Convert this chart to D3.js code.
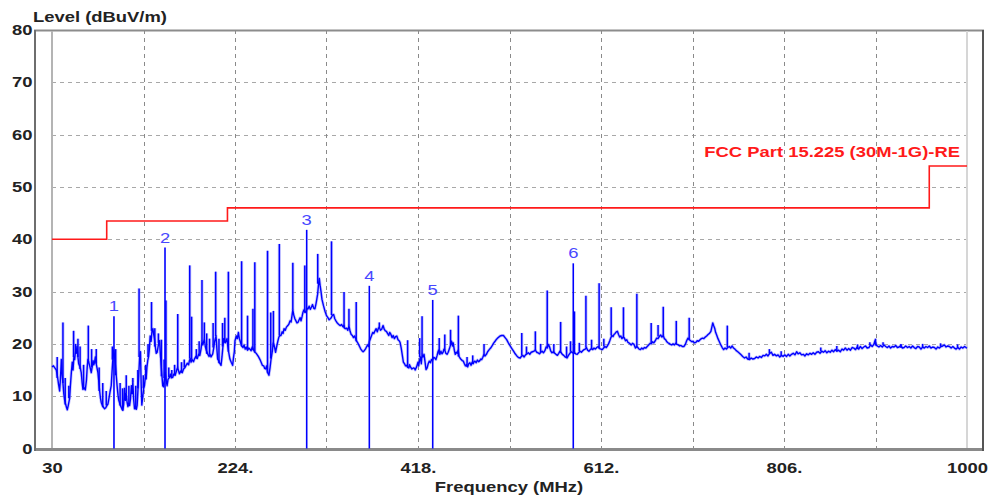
<!DOCTYPE html>
<html>
<head>
<meta charset="utf-8">
<script src="https://cdn.jsdelivr.net/npm/d3@7"></script>
<style>
  html, body { margin: 0; padding: 0; background: #ffffff; }
  svg { display: block; }
  text { font-family: "Liberation Sans", Arial, sans-serif; }
</style>
</head>
<body>
<svg id="chart" width="991" height="499"></svg>
<script>
// ---------------- DATA ----------------
const yTickValues = [0, 10, 20, 30, 40, 50, 60, 70, 80];
const xTickValues = [30, 224, 418, 612, 806, 1000];
const xTickLabels = ["30", "224.", "418.", "612.", "806.", "1000"];
const xGridValues = [127, 224, 321, 418, 515, 612, 709, 806, 903];
const yGridValues = [10, 20, 30, 40, 50, 60, 70];

const limitFreq  = [30, 88, 216, 960, 1000];
const limitLevel = [40, 43.5, 46, 54, 54];
const limitName = "FCC Part 15.225 (30M-1G)-RE";

const markerFreq  = [95.7, 149.8, 300.0, 366.4, 433.6, 582.6];
const markerLevel = [25.3, 38.4, 41.8, 31.1, 28.4, 35.4];
const markerLabel = ["1", "2", "3", "4", "5", "6"];

const trace30to220 = [[30,15.6],[31.5,15.8],[33,15.4],[34.6,15.0],[36,13.5],[37,12.2],[38.1,11.0],[39,13.5],[39.9,17.0],[40.8,14],[41.6,12.5],[42.5,10.5],[43.4,9.3],[44.5,8.4],[45.5,7.8],[46.2,7.4],[47.2,8.2],[48.7,9.6],[49.5,12],[50.5,14.5],[51.5,16.5],[52.3,15],[53.2,17.5],[54,17.0],[55,18.8],[55.7,18.2],[56.5,19.5],[57.5,17.5],[58.3,16.2],[59.3,15.8],[60.2,15.2],[61,14.5],[62,12.5],[62.8,11.3],[64,11.6],[65.3,11.2],[66.5,13],[67.3,15.5],[68.1,17.0],[69,16.5],[69.9,15.8],[70.8,15.2],[71.6,14.5],[72.5,15.5],[73.5,16.8],[74.3,16],[75.1,16.5],[76,17.5],[76.9,16.2],[77.8,15.3],[78.7,14.5],[79.6,12.8],[80.5,11],[81.4,9.6],[82.2,8.8],[83.2,8.3],[84.5,7.9],[85.7,7.6],[87,7.8],[88.2,8.2],[89.3,8.5],[90.3,9.5],[91.5,10.8],[92.8,12],[93.6,14.5],[94.5,17],[95.4,18.8],[96.3,17.8],[97.2,16],[98.1,14],[99,12],[100,10.2],[100.8,9.2],[101.6,8.8],[102.6,8.2],[103.6,7.8],[104.4,7.5],[105.1,7.3],[106,8.5],[106.9,11.5],[107.8,9.2],[108.7,10.5],[109.6,8.8],[110.5,8.0],[111.3,8.6],[112.2,8.2],[113.2,9.5],[114.2,12.0],[115.0,10.5],[115.7,12.8],[116.5,9.5],[117.5,7.6],[118.5,8.0],[119.4,7.5],[120.3,8.3],[121.2,11.5],[122.1,14.5],[122.9,17.5],[123.8,18.5],[124.5,12.5],[125.2,8.3],[126.3,10],[127.2,11.5],[128,12],[128.9,13.5],[129.8,13.3],[130.6,15.5],[131.5,16.8],[132.3,17.5],[133.2,19.0],[134.1,21.5],[135.1,20.5],[136,22.5],[136.9,22.9],[137.8,21.8],[138.6,21.0],[139.5,19.5],[140.5,18.2],[141.5,18.4],[142.3,19.3],[143.2,20.2],[144,20.6],[144.9,18.0],[145.7,15.9],[146.6,13.8],[147.4,12.0],[148.3,11.8],[149.2,13.5],[150,14.5],[151,13],[152,12],[153,13.2],[154.5,13.6],[155.5,14.2],[156.5,13.5],[158,13.6],[159,14.2],[160.5,14.0],[161.6,14.6],[162.5,15.2],[163.3,15.5],[164.2,14.8],[165.1,14.3],[166.5,14.8],[168,14.5],[169.5,15.2],[171,15.5],[172.1,15.9],[173.5,16.3],[174.8,16.0],[175.7,16.8],[176.5,17.2],[177.4,16.5],[178.5,17.0],[180,16.6],[181,17.1],[182.5,17.6],[184,17.2],[184.5,17.5],[185.5,18.0],[186.7,17.8],[188,19.0],[189,20.5],[190,19.8],[191.5,21.0],[192.5,19.5],[193.5,18.8],[195,18.1],[196.5,17.6],[197.5,18.0],[198.6,17.5],[199.5,17.8],[200.4,18.1],[201.5,19.3],[202.5,20.5],[203.9,21.5],[204.8,19.0],[205.6,17.1],[206.7,16.8],[207.8,16.3],[209.2,15.9],[210.2,17.5],[211.2,19.5],[212.0,21.0],[212.7,21.0],[213.6,20.2],[214.6,20.5],[215.5,21.0],[216.4,19.5],[217.2,18.5],[218.6,17.1]];

const trace220to420 = [[220,16.5],[221.5,15.9],[222.5,17.5],[223.3,18.5],[224,20.6],[225.5,21.5],[226.5,21.0],[227.6,22.2],[228.6,21.0],[229.5,20.5],[231,19.6],[232.5,19.3],[233.6,19.8],[234.8,19.0],[236,19.4],[237.3,18.8],[238.5,19.2],[239.8,19.0],[241,18.7],[242.3,19.4],[243.8,18.8],[245,18.4],[246.5,18.2],[248,17.8],[249,17.5],[250.5,17.0],[251.7,16.5],[253,15.9],[254.4,15.8],[255.5,15.3],[256.5,15.2],[257.5,15.8],[258.6,14.5],[260,14.0],[261.2,15.5],[262.3,17.2],[263.5,18.5],[264.6,20.2],[265.8,19.5],[267,18.4],[268.2,19.5],[269.4,20.5],[270.5,21.3],[271.6,21.6],[272.7,21.6],[274,22.3],[275,22.0],[276,22.9],[277.3,22.6],[278.5,23.2],[280,23.5],[281.2,23.8],[282.3,24.4],[283.5,24.2],[284.5,25.5],[285.3,26.5],[286.3,25.5],[287.5,24.8],[288.6,24.4],[289.7,24.0],[290.7,24.1],[292,24.6],[293,25.0],[294,24.4],[295.2,25.3],[296,26.0],[297,26.5],[298.3,26.0],[299.5,26.3],[300.5,26.8],[301.5,26.7],[302.6,27.2],[303.8,26.6],[305,27.0],[306.2,27.5],[307.5,26.8],[308.7,26.7],[309.8,27.6],[310.7,28.5],[311.6,29.5],[312.6,31.5],[313.4,32.5],[314.2,31.2],[315.2,30.0],[316.2,28.5],[317.8,27.3],[319.5,26.2],[321,25.4],[322.5,25.0],[323.8,24.6],[325,24.8],[326,25.0],[327.3,25.5],[328.6,25.6],[329.8,24.8],[331,24.4],[332,24.1],[333.5,23.8],[334.7,23.6],[335.8,23.5],[337,23.7],[338.3,23.3],[339.4,23.5],[340.3,23.0],[341,22.9],[342.3,23.0],[343.6,22.6],[344.8,23.5],[346,22.4],[347.2,21.8],[348.4,21.6],[349.6,21.2],[350.8,21.5],[352,21.0],[353,20.5],[353.8,20.3],[355.2,19.8],[356.3,19.4],[357.4,19.0],[358.6,18.7],[359.8,18.5],[361,18.7],[362.2,19.0],[363.4,19.4],[364.6,19.8],[365.6,19.5],[366.5,20.5],[367.5,21.0],[368.6,21.5],[370,22.2],[371.2,22.0],[372.4,22.5],[373.6,22.9],[374.8,22.3],[376,23.0],[377,23.2],[378.2,22.6],[379.5,22.8],[381,23.5],[382.2,22.8],[383.4,22.5],[384.5,22.4],[385.7,22.0],[387,21.6],[388,22.2],[389.3,21.8],[390.5,21.2],[391.7,21.6],[393,21.0],[394.2,21.4],[395.5,21.5],[396.8,20.8],[398,20.6],[399,20.3],[400.2,19.2],[401.4,17.8],[402.5,16.5],[403.7,16.2],[404.8,15.8],[406,15.9],[407.2,15.5],[408.3,15.4],[409,16.0],[410,15.6],[411.5,15.2],[413,15.4],[414.4,15.3],[415,15.0],[416.5,15.6],[418,16.5]];

const trace420to700 = [[418.7,15.8],[419.6,16.8],[420.5,17.5],[421.5,16.2],[422.3,18.0],[423.3,17.5],[424.4,18.0],[425.5,16.5],[426.5,15.1],[427.7,15.4],[428.8,16.2],[430,16.7],[431.2,16.4],[432.3,17.0],[433.3,16.8],[434.5,17.4],[435.8,17.3],[437,17.0],[438.3,17.8],[439.2,18.5],[440,18.8],[441.2,18.0],[442.3,18.6],[443.4,18.1],[444.6,18.4],[445.5,19.0],[446.4,18.8],[447.5,18.2],[448.8,18.0],[450,18.4],[451.2,19.0],[452.5,19.8],[453.5,20.5],[454.5,19.6],[455.3,20.2],[456.5,18.8],[457.5,18.0],[458.6,18.4],[459.6,18.2],[460.6,18.8],[461.5,17.6],[462.5,17.3],[463.8,17.0],[465,16.8],[466,16.7],[467.2,16.2],[468.3,15.8],[469.5,16.0],[470.6,15.6],[471.8,16.2],[473,16.4],[474.2,15.9],[475.4,16.5],[476.5,16.2],[477.5,16.6],[478.4,16.7],[479.6,16.4],[481,16.9],[482.3,16.6],[483.5,16.8],[484.5,17.1],[485.5,17.0],[486.6,17.4],[487.8,17.9],[489,17.7],[490.5,18.0],[491.8,18.5],[493.5,18.9],[495,19.2],[496.5,19.6],[498,20.1],[499.7,20.5],[501.3,20.9],[503,21.2],[505,21.5],[506.8,21.6],[508.6,21.6],[510.3,21.2],[512,20.8],[513.8,20.2],[515.7,19.6],[517.5,19.1],[519.3,18.6],[521,18.1],[522.8,17.7],[524.5,17.4],[526.4,17.3],[527.5,17.6],[529.2,17.8],[530.5,17.5],[532,17.9],[533.5,18.1],[535,18.3],[536.5,18.0],[538,18.4],[539.5,18.5],[541,18.6],[542.4,18.8],[543.8,18.4],[545.2,18.3],[546.8,18.1],[548.2,18.4],[549.6,18.6],[551,18.3],[552.5,18.7],[553.8,19.4],[555,19.2],[556.3,19.9],[557.5,19.4],[558.8,18.6],[560,18.3],[561.5,18.5],[563,18.2],[564.3,18.0],[565.8,17.8],[567.2,18.2],[568.5,18.6],[569.8,18.3],[571,18.0],[572.5,17.8],[574,17.5],[576,17.3],[577.5,17.8],[579,18.2],[580.5,18.5],[582,18.3],[583.5,18.4],[585,18.1],[586.8,18.0],[588.2,18.3],[589.8,18.6],[591.2,18.4],[592.6,18.7],[594,18.9],[595.3,19.0],[596.5,19.3],[597.8,18.8],[599.2,18.6],[600.6,18.9],[602,19.1],[603.3,18.9],[604.5,19.2],[606,19.0],[607.5,19.3],[609,19.5],[610.5,19.1],[612,19.0],[613.4,18.9],[614.8,19.2],[616.2,19.5],[617.5,19.3],[618.7,19.6],[620,20.0],[621.3,20.6],[622.5,21.2],[623.5,21.6],[624.8,21.4],[625.8,21.8],[627,22.0],[628.2,22.3],[629.4,22.4],[630.6,21.8],[631.8,21.3],[633,21.5],[634.2,21.0],[635.5,21.3],[636.8,21.1],[638,20.6],[639.3,20.8],[640.5,20.3],[641.5,20.2],[642.8,20.0],[644,19.8],[645.4,20.1],[647,19.9],[648.5,19.2],[649.8,19.5],[651,19.3],[652.4,19.0],[653.8,18.9],[655.2,19.2],[656.6,19.0],[658,19.3],[659.6,19.2],[661,19.5],[662.5,19.8],[664,20.1],[665.2,20.0],[666.6,20.4],[668,20.2],[669.5,20.6],[671,21.1],[672.4,21.0],[673.8,21.4],[675.2,21.7],[676.6,21.3],[678,21.6],[679.2,21.0],[680.5,20.8],[681.8,20.4],[683,20.2],[684.2,20.1],[685.5,19.9],[687,19.8],[688.4,20.0],[689.8,19.8],[691.2,20.1],[692.6,19.9],[694,19.8],[695.4,19.6],[696.8,19.7],[698.2,19.5]];

const trace700to1000 = [[700,19.5],[701.4,19.9],[702.8,20.6],[704.2,21.1],[705.6,20.8],[707,20.6],[708.4,20.4],[709.6,20.5],[711,20.2],[712.6,20.3],[714,20.6],[715.5,20.5],[717,20.8],[718.4,21.0],[719.7,21.1],[721,21.0],[722.5,21.3],[724,21.5],[725.5,21.8],[727,22.0],[728.5,22.4],[729.5,23.2],[730.5,24.0],[731.4,23.5],[732.5,23.0],[733.5,22.2],[734.8,21.6],[736,21.0],[737.5,20.4],[739,19.8],[740.5,19.3],[742,18.9],[743.5,19.2],[745,19.0],[746.4,19.3],[748,19.5],[749.5,19.2],[751,19.6],[752.5,19.2],[754,19.0],[755.5,18.7],[757,18.5],[758.8,18.2],[760.5,17.9],[762.2,17.6],[764.2,17.3],[765.8,17.5],[767.5,17.1],[769.5,17.0],[771.2,17.3],[773,17.1],[774.9,17.2],[776.6,17.5],[778.5,17.3],[780.2,17.6],[782,17.4],[783.8,17.8],[785.5,17.7],[787.3,18.0],[789,17.7],[790.9,18.2],[792.6,18.4],[794.3,17.8],[796,18.0],[798,17.7],[799.7,17.9],[801.5,17.5],[803.3,17.8],[805,17.6],[806.8,17.9],[808.7,17.6],[810.5,18.0],[812.2,17.7],[814,18.0],[815.8,18.2],[817.6,17.9],[819.4,18.5],[821,18.1],[822.8,18.3],[824.6,17.9],[826.5,18.0],[828.2,17.7],[830,18.1],[831.8,17.9],[833.6,18.2],[835.3,18.0],[837,18.3],[838.8,18.0],[840.6,18.4],[842.5,18.5],[844.2,18.2],[846,18.6],[847.8,18.4],[849.6,18.7],[851.4,18.3],[853.2,18.6],[855,18.4],[856.8,18.8],[858.5,18.5],[860.3,18.9],[862.1,18.6],[863.9,18.8],[865.7,18.5],[867.5,19.0],[869.2,18.8],[871,19.2],[872.8,18.8],[874.6,19.1],[876.4,18.8],[878.2,19.3],[880,19.2],[881.8,18.9],[883.5,19.4],[885.2,19.0],[887,19.5],[888.8,19.1],[890.6,19.4],[892.4,19.6],[894.2,19.2],[896,19.3],[897.7,19.8],[899.5,19.5],[901.2,19.9],[902.5,20.6],[904,19.7],[906.6,19.4],[908.4,19.7],[910.2,19.4],[912,19.8],[913.8,19.5],[915.6,19.3],[917.3,19.6],[919,19.2],[920.8,19.5],[922.6,19.4],[924.4,19.7],[926.2,19.3],[928,19.4],[929.8,19.7],[931.6,19.2],[933.3,19.3],[935,19.6],[936.9,19.3],[938.7,19.5],[940.5,19.2],[942.3,19.6],[944,19.3],[945.8,19.1],[947.6,19.5],[949.4,19.4],[951.2,19.0],[953,19.4],[954.7,19.2],[956.5,19.5],[958.2,19.3],[960,19.6],[961.8,19.2],[963.6,19.4],[965.4,19.3],[967.2,19.0],[969,19.4],[970.7,19.2],[972.5,19.5],[974.3,19.6],[976,19.8],[977.8,19.4],[979.6,19.6],[981.4,19.5],[983.2,19.2],[985,19.5],[986.7,19.2],[988.5,19.0],[990.3,19.3],[992,19.0],[993.8,19.4],[995.6,19.2],[997.4,19.5],[999,19.3],[1000,19.2]];

// narrow emission spikes: [frequency MHz, peak level dBuV/m]
const spikesLow = [[35.5,17.5],[41.6,24.1],[44.0,13.5],[47.8,12.0],[52.9,22.5],[55.0,20.0],[57.5,21.0],[59.8,19.5],[63.5,16.0],[68.5,23.5],[72.0,19.0],[76.9,19.0],[80.0,15.5],[83.8,12.5],[87.5,11.0],[94.0,19.5],[97.5,19.0],[102.2,12.5],[104.8,11.5],[108.7,14.0],[111.5,12.0],[115.7,13.5],[118.8,12.0],[121.0,15.0],[122.3,30.6],[126.8,14.0],[129.3,16.0],[131.8,20.0],[135.5,28.0],[139.0,23.0],[142.8,22.0],[146.0,20.8],[148.8,17.0],[150.8,28.3],[153.8,15.5],[157.0,15.0],[160.0,16.0],[163.3,25.7],[167.3,16.5],[170.2,17.0],[176.0,35.0],[178.0,25.2],[183.0,19.0],[186.0,20.5],[189.0,32.2],[191.5,24.1],[194.0,22.0],[197.0,21.0],[200.8,24.0],[203.5,33.8],[207.0,21.0],[210.8,24.0],[213.2,25.0],[217.0,33.8]];
const spikesMid = [[231.0,35.8],[237.3,25.4],[243.0,26.7],[245.0,35.6],[258.5,37.8],[261.9,26.0],[264.7,26.3],[271.0,39.1],[285.3,35.5],[298.0,35.0],[311.7,37.2],[326.3,39.6],[339.6,29.9],[344.8,26.7],[352.5,28.0],[377.0,24.1],[407.0,20.7],[419.8,21.1],[422.3,25.3],[440.5,21.1],[446.4,21.8],[452.5,22.7],[460.8,25.4],[470.0,17.5],[476.0,17.8],[488.0,20.0]];
const spikesHigh = [[528.0,22.1],[533.0,19.5],[542.4,22.4],[548.0,20.0],[555.0,30.2],[562.0,20.0],[569.2,24.2],[575.5,19.5],[579.7,20.5],[583.8,26.2],[589.0,20.2],[596.0,29.2],[602.0,20.8],[610.0,31.6],[615.0,21.0],[622.8,27.0],[635.8,27.0],[650.0,29.6],[665.2,24.0],[672.5,23.6],[678.0,27.1],[691.8,24.4],[705.5,25.0],[745.9,23.5],[769.0,18.3],[790.5,19.0],[803.0,18.6],[845.0,19.3],[862.0,19.6],[884.0,19.9],[897.0,20.3],[903.0,21.0],[911.0,20.3],[930.0,20.0],[953.0,20.0],[972.0,20.1],[990.0,19.9]];

// ---------------- CHART ----------------
const svg = d3.select("#chart");
const x = d3.scaleLinear().domain([30, 1000]).range([52, 967]);
const y = d3.scaleLinear().domain([0, 80]).range([448.5, 30]);
const SX = 1.27;          // horizontal stretch of the original lettering
const FS = "14.5px";

// grid
svg.append("g").selectAll("line").data(yGridValues).join("line")
  .attr("x1", x(30)).attr("x2", x(1000))
  .attr("y1", d => Math.round(y(d)) + 0.5).attr("y2", d => Math.round(y(d)) + 0.5)
  .attr("stroke", "#a8a8a8").attr("stroke-width", 1).attr("stroke-dasharray", "4,4");
svg.append("g").selectAll("line").data(xGridValues).join("line")
  .attr("x1", d => Math.round(x(d)) + 0.5).attr("x2", d => Math.round(x(d)) + 0.5)
  .attr("y1", y(80)).attr("y2", y(0))
  .attr("stroke", "#8a8a8a").attr("stroke-width", 1).attr("stroke-dasharray", "4,4");

// frame
svg.append("rect").attr("x", 35).attr("y", 30.5).attr("width", 948).attr("height", 418.5)
  .attr("fill", "none").attr("stroke", "#8c8c8c").attr("stroke-width", 2);
svg.append("line").attr("x1", 34).attr("x2", 984).attr("y1", 449.5).attr("y2", 449.5)
  .attr("stroke", "#8a8a8a").attr("stroke-width", 3);
svg.append("line").attr("x1", 983).attr("x2", 983).attr("y1", 30).attr("y2", 451)
  .attr("stroke", "#555").attr("stroke-width", 2);
svg.append("line").attr("x1", 35).attr("x2", 35).attr("y1", 30).attr("y2", 451)
  .attr("stroke", "#6e6e6e").attr("stroke-width", 2);
svg.append("line").attr("x1", x(30)).attr("x2", x(30)).attr("y1", 31).attr("y2", 448)
  .attr("stroke", "#b4b4b4").attr("stroke-width", 2);
svg.append("line").attr("x1", x(1000)).attr("x2", x(1000)).attr("y1", 31).attr("y2", 448)
  .attr("stroke", "#d6d6d6").attr("stroke-width", 2);

// limit line
const limitData = limitFreq.map((f, i) => [f, limitLevel[i]]);
svg.append("path").datum(limitData)
  .attr("d", d3.line().x(d => x(d[0])).y(d => y(d[1])).curve(d3.curveStepAfter))
  .attr("fill", "none").attr("stroke", "#ff1a1a").attr("stroke-width", 1.6);

// trace (soft halo underneath, like the scanned original)
const trace = trace30to220.concat(trace220to420, trace420to700, trace700to1000);
const spikes = spikesLow.concat(spikesMid, spikesHigh);
const bis = d3.bisector(d => d[0]).left;
const traceLine = d3.line().x(d => x(d[0])).y(d => y(d[1]));
const spikePath = d => {
  const i = Math.max(0, Math.min(trace.length - 1, bis(trace, d[0])));
  const base = trace[i][1];
  return `M${x(d[0])},${y(base)}L${x(d[0])},${y(d[1])}`;
};
const plot = svg.append("g");
[["#9a9aff", 3.0, 0.55], ["#0000ff", 1.4, 1]].forEach(([col, w, op]) => {
  plot.append("path").datum(trace).attr("d", traceLine)
    .attr("fill", "none").attr("stroke", col).attr("stroke-width", w).attr("stroke-opacity", op)
    .attr("stroke-linejoin", "round");
  plot.append("g").selectAll("path").data(spikes).join("path")
    .attr("d", spikePath)
    .attr("fill", "none").attr("stroke", col).attr("stroke-width", w * 1.05).attr("stroke-opacity", op);
});

// markers
const markers = markerFreq.map((f, i) => ({ f, v: markerLevel[i], t: markerLabel[i] }));
svg.append("g").selectAll("line").data(markers).join("line")
  .attr("x1", d => x(d.f)).attr("x2", d => x(d.f))
  .attr("y1", y(0)).attr("y2", d => y(d.v))
  .attr("stroke", "#0000ff").attr("stroke-width", 1.6);
svg.append("g").selectAll("g").data(markers).join("g")
  .attr("transform", d => `translate(${x(d.f)},${y(d.v) - 5}) scale(${SX},1)`)
  .append("text").attr("text-anchor", "middle")
  .style("font-size", FS).attr("fill", "#4848ff").text(d => d.t);

// axes
const yAxis = d3.axisLeft(y).tickValues(yTickValues).tickSize(0).tickPadding(0).tickFormat(d3.format("d"));
const gy = svg.append("g").attr("transform", "translate(32.5,0)").call(yAxis);
gy.select(".domain").remove();
gy.selectAll("text").attr("transform", `scale(${SX},1)`)
  .style("font-size", FS).style("font-weight", "bold").attr("fill", "#222");

const xAxis = d3.axisBottom(x).tickValues(xTickValues).tickSize(0).tickPadding(0)
  .tickFormat((d, i) => xTickLabels[i]);
const gx = svg.append("g").attr("transform", "translate(0,463)").call(xAxis);
gx.select(".domain").remove();
gx.selectAll("text").attr("transform", `scale(${SX},1)`)
  .style("font-size", FS).style("font-weight", "bold").attr("fill", "#222");

// titles
svg.append("g").attr("transform", `translate(33,22) scale(${SX},1)`)
  .append("text").style("font-size", FS).style("font-weight", "bold").attr("fill", "#222")
  .text("Level (dBuV/m)");
svg.append("g").attr("transform", `translate(509,492) scale(${SX},1)`)
  .append("text").attr("text-anchor", "middle").style("font-size", FS).style("font-weight", "bold").attr("fill", "#222")
  .text("Frequency (MHz)");
svg.append("g").attr("transform", `translate(960,157) scale(${SX},1)`)
  .append("text").attr("text-anchor", "end").style("font-size", FS).style("font-weight", "bold").attr("fill", "#ff1a1a")
  .text(limitName);
</script>
</body>
</html>
